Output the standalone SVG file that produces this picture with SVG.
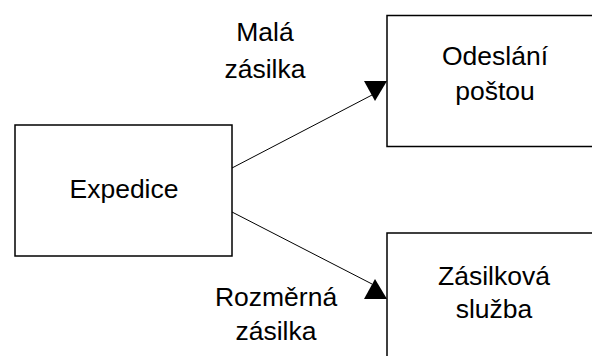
<svg xmlns="http://www.w3.org/2000/svg" width="592" height="356" viewBox="0 0 592 356">
<style>
.box{fill:#fff;stroke:#000;stroke-width:1.5}
.t{font-family:"Liberation Sans",Arial,sans-serif;font-size:26.5px;fill:#000;text-anchor:middle}
.ln{stroke:#000;stroke-width:1;fill:none}
.ah{fill:#000}
</style>
<rect width="592" height="356" fill="#fff"/>
<g id="expedice">
<rect class="box" x="15" y="125" width="217" height="131"/>
<text class="t" x="124" y="198">Expedice</text>
</g>
<g id="odeslani">
<rect class="box" x="387" y="15.5" width="217" height="131"/>
<text class="t" x="495" y="65">Odeslání</text>
<text class="t" x="495" y="100">poštou</text>
</g>
<g id="zasilkova">
<rect class="box" x="387" y="233" width="217" height="131"/>
<text class="t" x="494" y="285">Zásilková</text>
<text class="t" x="494" y="318">služba</text>
</g>
<g id="connectors">
<line class="ln" x1="232" y1="168" x2="372" y2="95"/>
<polygon class="ah" points="364,81 387,81 375,101"/>
<line class="ln" x1="232" y1="212" x2="372" y2="284"/>
<polygon class="ah" points="364,299 387,299 375,279"/>
<text class="t" x="265" y="41">Malá</text>
<text class="t" x="265" y="78">zásilka</text>
<text class="t" x="276" y="306">Rozměrná</text>
<text class="t" x="276" y="340">zásilka</text>
</g>
</svg>
